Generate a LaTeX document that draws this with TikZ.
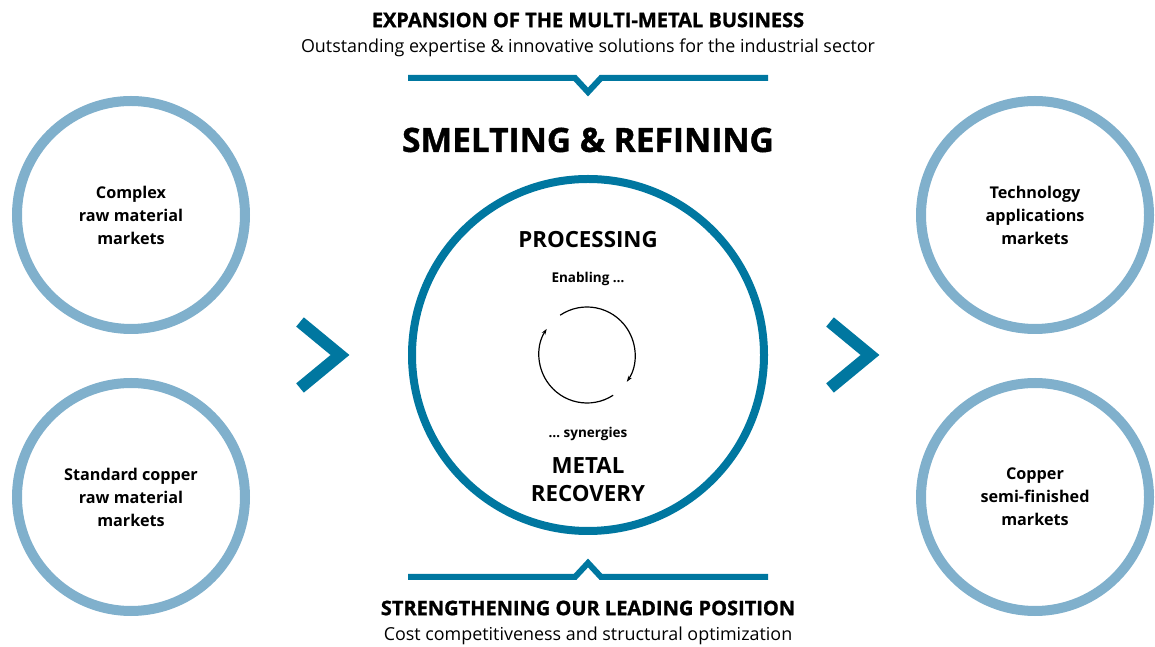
\documentclass[tikz,border=0pt]{standalone}
\usepackage{fontspec}
\setmainfont{Open Sans}
\newfontfamily\heavyfont[BoldFeatures={FakeBold=1.2}]{Open Sans}
\usetikzlibrary{arrows.meta}
\definecolor{lightblue}{RGB}{128,176,204}
\definecolor{darkblue}{RGB}{0,119,160}
\begin{document}
\begin{tikzpicture}[x=1pt,y=1pt,
  market/.style={circle, draw=lightblue, line width=10pt, minimum size=228pt,
    align=center, font=\fontsize{16.2}{23}\selectfont\bfseries},
  chevron/.style={draw=darkblue, line width=12pt, miter limit=10},
  bracket/.style={draw=darkblue, line width=6pt},
  heading/.style={font=\fontsize{20}{22}\selectfont\heavyfont\bfseries},
  subline/.style={font=\fontsize{17.9}{20}\selectfont},
  inner/.style={font=\fontsize{22.3}{28}\selectfont\bfseries, align=center},
  small/.style={font=\fontsize{13.5}{16}\selectfont\bfseries},
  cyclearrow/.style={line width=1.2pt, -{Stealth[length=6pt,width=4pt]}}]
\useasboundingbox (0,0) rectangle (1155,647);

\node (title) at (588,627) [heading] {EXPANSION OF THE MULTI-METAL BUSINESS};
\node (subtitle) at (588,599) [subline] {Outstanding expertise \& innovative solutions for the industrial sector};
\draw[bracket] (408,569) -- (575,569) -- (588,555) -- (601,569) -- (768,569);

\node (smelting) at (588,507) [font=\fontsize{33.5}{40}\selectfont\heavyfont\bfseries] {SMELTING \& REFINING};

\node[circle, draw=darkblue, line width=8pt, minimum size=352pt] (core) at (588,292) {};
\node (processing) at (588,407) [inner] {PROCESSING};
\node (enabling) at (588,368) [small] {Enabling \dots};
\coordinate (cyc) at (587,292);
\draw[cyclearrow] ([shift={(124:48)}]cyc) arc[start angle=124, end angle=-34, radius=48];
\draw[cyclearrow] ([shift={(-57:48)}]cyc) arc[start angle=-57, end angle=-213, radius=48];
\node (synergies) at (588,213) [small] {\dots\ synergies};
\node (recovery) at (588,167) [inner] {METAL\\RECOVERY};

\draw[bracket] (408,70) -- (575,70) -- (588,84) -- (601,70) -- (768,70);
\node (strength) at (588,39) [heading] {STRENGTHENING OUR LEADING POSITION};
\node (cost) at (588,11) [subline] {Cost competitiveness and structural optimization};

\node[market] (complex) at (131,432) {Complex\\raw material\\markets};
\node[market] (standard) at (131,150) {Standard copper\\raw material\\markets};
\node[market] (technology) at (1035,432) {Technology\\applications\\markets};
\node[market] (semi) at (1035,150) {Copper\\semi-finished\\markets};

\draw[chevron] (300,325) -- (340,292) -- (300,259);
\draw[chevron] (830,325) -- (870,292) -- (830,259);
\end{tikzpicture}
\end{document}
